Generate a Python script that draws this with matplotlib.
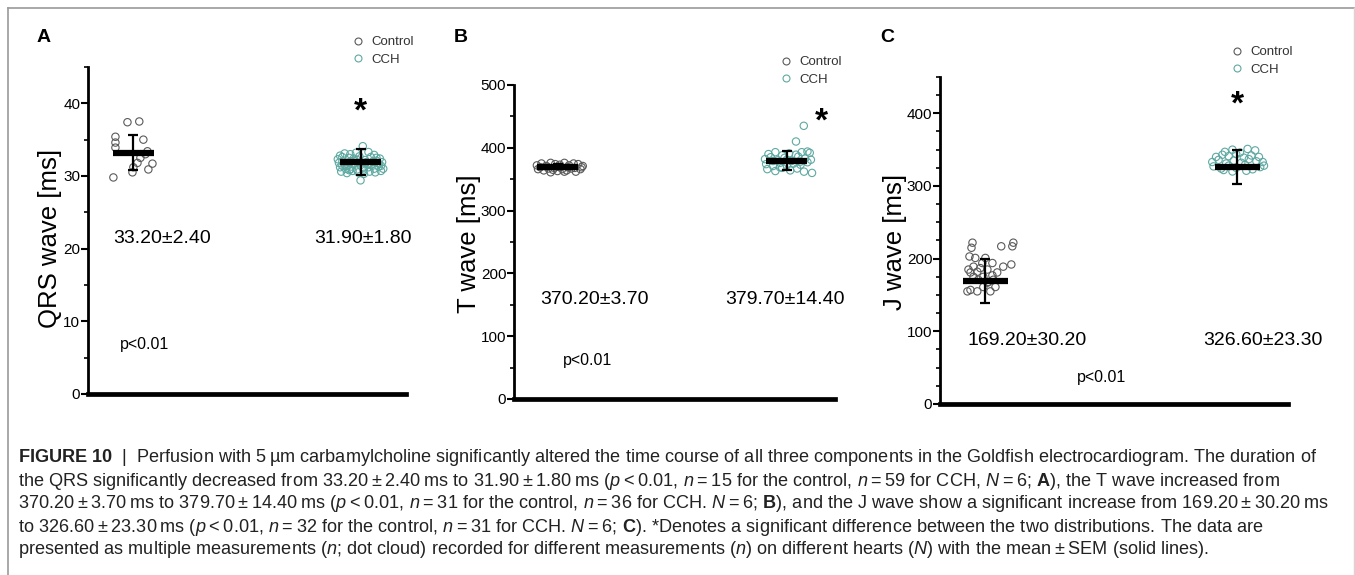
import matplotlib.pyplot as plt
from matplotlib.lines import Line2D
from matplotlib.ticker import MultipleLocator

plt.rcParams['font.family'] = ['Liberation Sans', 'DejaVu Sans']
plt.rcParams['mathtext.fontset'] = 'custom'
plt.rcParams['mathtext.rm'] = 'Liberation Sans'
plt.rcParams['mathtext.it'] = 'Liberation Sans:italic'
plt.rcParams['mathtext.bf'] = 'Liberation Sans:bold'

GRAY = '#5a5a5a'
TEAL = '#5ea9a2'

groups = ['Control', 'CCH']

# --- A: QRS wave [ms]
qrs_mean = [33.20, 31.90]
qrs_err = [2.40, 1.80]
qrs_ctrl = [29.8, 37.4, 37.5, 35.4, 34.6, 33.9, 35.0, 30.5, 31.8, 32.5,
            33.4, 31.7, 30.9, 33.0, 31.2]
qrs_ctrl_dx = [-0.088, -0.026, 0.026, -0.079, -0.079, -0.079, 0.044, -0.004,
               0.018, 0.031, 0.062, 0.084, 0.066, 0.053, 0.0]
qrs_cch = [32.8, 33.1, 33.0, 33.2, 34.1, 33.3, 32.9, 32.4,
           32.3, 32.6, 32.5, 32.4, 32.7, 32.2, 32.6, 32.5, 31.9,
           31.8, 31.6, 31.9, 31.7, 31.5, 31.9, 31.6, 31.8, 31.4, 32.0,
           31.2, 31.0, 31.3, 30.9, 31.1, 31.2, 31.0, 31.3, 31.0, 31.4,
           30.6, 30.4, 30.7, 30.5, 30.3, 30.6, 30.5, 30.7, 30.8,
           32.0, 31.5, 32.1, 31.9, 31.6, 32.0, 31.7, 32.2, 30.9, 31.5,
           30.9, 32.1, 29.4]
qrs_cch_dx = [-0.09, -0.07, -0.045, -0.02, 0.01, 0.035, 0.06, 0.085,
              -0.10, -0.08, -0.05, -0.03, -0.005, 0.02, 0.045, 0.07, 0.095,
              -0.095, -0.07, -0.05, -0.025, 0.0, 0.025, 0.05, 0.075, 0.09, -0.04,
              -0.09, -0.065, -0.04, -0.015, 0.01, 0.035, 0.06, 0.08, 0.1, -0.08,
              -0.085, -0.06, -0.035, -0.01, 0.015, 0.04, 0.065, 0.09, -0.05,
              -0.08, -0.055, -0.03, 0.0, 0.03, 0.055, 0.08, -0.015, 0.015, 0.045,
              -0.045, 0.07, 0.0]

# --- B: T wave [ms]
t_mean = [370.20, 379.70]
t_err = [3.70, 14.40]
t_ctrl = [372, 375, 371, 376, 374, 373, 376, 372, 375, 374, 371,
          366, 364, 367, 365, 363, 366, 364, 367, 362, 366,
          369, 370, 368, 370, 369, 368, 369, 361, 362, 370]
t_ctrl_dx = [-0.09, -0.07, -0.05, -0.03, -0.01, 0.01, 0.03, 0.05, 0.07, 0.09, 0.11,
             -0.085, -0.06, -0.04, -0.02, 0.0, 0.02, 0.04, 0.06, 0.08, 0.1,
             -0.075, -0.045, -0.015, 0.015, 0.045, 0.075, 0.105, -0.03, 0.03, 0.0]
t_cch = [435, 410, 393,
         390, 393, 388, 391, 389, 394, 392,
         382, 385, 380, 384, 379, 386, 383, 381,
         374, 371, 376, 372, 375, 373, 377,
         366, 363, 368, 364, 367, 362, 360,
         379, 381, 378, 369]
t_cch_dx = [0.074, 0.04, 0.065,
            -0.08, -0.05, -0.02, 0.01, 0.04, 0.09, 0.1,
            -0.095, -0.07, -0.04, -0.01, 0.02, 0.05, 0.08, 0.105,
            -0.09, -0.06, -0.03, 0.0, 0.03, 0.06, 0.09,
            -0.085, -0.05, -0.02, 0.015, 0.045, 0.075, 0.11,
            -0.06, 0.0, 0.06, -0.03]

# --- C: J wave [ms]
j_mean = [169.20, 326.60]
j_err = [30.20, 23.30]
j_ctrl = [222, 215, 222, 217, 217, 203, 201, 201, 194, 189, 192, 189, 187,
          185, 181, 182, 177, 175, 175, 168, 161, 157, 155, 155, 155, 161,
          171, 194, 185, 181, 167, 171]
j_ctrl_dx = [-0.051, -0.055, 0.111, 0.107, 0.063, -0.063, -0.040, 0.0, 0.028,
             0.071, 0.103, -0.047, -0.020, 0.008, -0.059, -0.032, 0.028,
             -0.008, -0.047, 0.012, 0.040, -0.059, -0.032, -0.071, 0.020,
             -0.008, 0.032, -0.012, -0.067, 0.047, 0.008, -0.028]
j_cch = [347, 350, 346, 351, 349,
         340, 343, 341, 344, 339, 342, 340,
         333, 336, 331, 335, 332, 337, 334, 333,
         327, 324, 328, 325, 329, 323, 326, 328,
         320, 321, 322]
j_cch_dx = [-0.05, -0.02, 0.01, 0.04, 0.07,
            -0.085, -0.06, -0.035, -0.005, 0.025, 0.055, 0.085,
            -0.1, -0.075, -0.045, -0.015, 0.015, 0.045, 0.075, 0.1,
            -0.095, -0.065, -0.035, -0.005, 0.03, 0.06, 0.09, 0.105,
            -0.02, 0.035, -0.055]

fig = plt.figure(figsize=(13.55, 5.75), dpi=100)

# grey frame around the figure
frame = dict(color='#9a9a9a', lw=1.2, transform=fig.transFigure)
fig.add_artist(Line2D([0.0059, 0.9993], [0.986, 0.986], **frame))
fig.add_artist(Line2D([0.0059, 0.0059], [0.0, 0.986], **frame))
fig.add_artist(Line2D([0.9993, 0.9993], [0.0, 0.986], color='#d5d5d5', lw=1.0,
                      transform=fig.transFigure))


def panel(rect, ctrl, ctrl_dx, cch, cch_dx, means, errs, ylim, xlim, major,
          minor, ylabel, label_x, label_y, texts, p_pos, star_pos, leg_pos):
    ax = fig.add_axes(rect)
    ax.scatter([1 + d for d in ctrl_dx], ctrl, s=28, facecolors='none',
               edgecolors=GRAY, linewidths=0.8, zorder=2)
    ax.scatter([2 + d for d in cch_dx], cch, s=28, facecolors='none',
               edgecolors=TEAL, linewidths=0.8, zorder=2)
    ax.hlines(means, [0.91, 1.91], [1.09, 2.09], colors='black', lw=4.5, zorder=3)
    ax.errorbar([1, 2], means, yerr=errs, fmt='none', ecolor='black',
                elinewidth=1.6, capsize=3.5, capthick=1.6, zorder=4)
    for (x, y), m, e in zip(texts, means, errs):
        ax.text(x, y, '%.2f±%.2f' % (m, e), fontsize=14, ha='center', va='center')
    ax.text(p_pos[0], p_pos[1], 'p<0.01', fontsize=11.5, ha='center', va='center')
    ax.text(star_pos[0], star_pos[1], '*', fontsize=24, fontweight='bold',
            ha='center', va='center')

    ax.set_xlim(*xlim)
    ax.set_ylim(*ylim)
    ax.set_xticks([])
    ax.yaxis.set_major_locator(MultipleLocator(major))
    ax.yaxis.set_minor_locator(MultipleLocator(minor))
    ax.tick_params(axis='y', which='major', length=5, width=1.5, pad=0.5,
                   labelsize=11)
    ax.tick_params(axis='y', which='minor', length=3, width=1.2)
    ax.spines[['top', 'right']].set_visible(False)
    ax.spines['left'].set_linewidth(2.0)
    ax.spines['bottom'].set_linewidth(3.4)
    ax.set_ylabel(ylabel, fontsize=18.5)
    ax.yaxis.set_label_coords(label_x, label_y)

    handles = [Line2D([], [], ls='none', marker='o', ms=5, mfc='none',
                      mec=c, mew=0.8) for c in (GRAY, TEAL)]
    ax.legend(handles, groups, loc='upper left', bbox_to_anchor=leg_pos,
              frameon=False, prop={'size': 9.5},
              handlelength=0.8, handletextpad=0.6, labelspacing=0.4,
              borderpad=0, borderaxespad=0, labelcolor='#333333')
    return ax


panel([0.0649, 0.3148, 0.2347, 0.5687], qrs_ctrl, qrs_ctrl_dx, qrs_cch,
      qrs_cch_dx, qrs_mean, qrs_err, (0, 45), (0.8, 2.2), 10, 5,
      'QRS wave [ms]', -0.080, 0.477, [(1.128, 21.4), (2.01, 21.4)],
      (1.05, 6.8), (2.0, 38.8), (0.833, 1.095))

panel([0.3793, 0.3061, 0.2369, 0.5461], t_ctrl, t_ctrl_dx, t_cch, t_cch_dx,
      t_mean, t_err, (0, 500), (0.81, 2.21), 100, 50,
      'T wave [ms]', -0.102, 0.494, [(1.16, 159), (1.99, 159)],
      (1.13, 60.5), (2.15, 441), (0.832, 1.092))

panel([0.6937, 0.2974, 0.2568, 0.5687], j_ctrl, j_ctrl_dx, j_cch, j_cch_dx,
      j_mean, j_err, (0, 450), (0.82, 2.2), 100, 25,
      'J wave [ms]', -0.096, 0.495, [(1.166, 88), (2.10, 88)],
      (1.46, 37), (2.0, 411), (0.839, 1.095))

for letter, x in (('A', 44), ('B', 461), ('C', 887)):
    fig.text(x / 1355, 1 - 37 / 575, letter, fontsize=14, fontweight='bold',
             ha='center', va='center')

# caption
T = '\u2009'


def it(s):
    return r'$\mathit{' + s + '}$'


def bf(s):
    return r'$\mathbf{' + s + '}$'


pm = T + '±' + T
eq = T + '=' + T
lt = T + '<' + T
caption = [
    bf(r'FIGURE\ 10') + '  |  Perfusion with 5' + T + 'µm carbamylcholine '
    'significantly altered the time course of all three components in the '
    'Goldfish electrocardiogram. The duration of',
    'the QRS significantly decreased from 33.20' + pm + '2.40' + T + 'ms to 31.90'
    + pm + '1.80' + T + 'ms (' + it('p') + lt + '0.01, ' + it('n') + eq
    + '15 for the control, ' + it('n') + eq + '59 for CCH, ' + it('N') + eq
    + '6; ' + bf('A') + '), the T wave increased from',
    '370.20' + pm + '3.70' + T + 'ms to 379.70' + pm + '14.40' + T + 'ms ('
    + it('p') + lt + '0.01, ' + it('n') + eq + '31 for the control, '
    + it('n') + eq + '36 for CCH. ' + it('N') + eq + '6; ' + bf('B')
    + '), and the J wave show a significant increase from 169.20' + pm
    + '30.20' + T + 'ms',
    'to 326.60' + pm + '23.30' + T + 'ms (' + it('p') + lt + '0.01, ' + it('n')
    + eq + '32 for the control, ' + it('n') + eq + '31 for CCH. ' + it('N')
    + eq + '6; ' + bf('C') + '). *Denotes a significant difference between '
    'the two distributions. The data are',
    'presented as multiple measurements (' + it('n') + '; dot cloud) recorded '
    'for different measurements (' + it('n') + ') on different hearts ('
    + it('N') + ') with the mean' + pm + 'SEM (solid lines).',
]
for line, ypx in zip(caption, (458, 481, 503, 527, 550)):
    fig.text(18 / 1355, 1 - ypx / 575, line, fontsize=13.1, color='#222222',
             ha='left', va='center')

fig.savefig('out.png', dpi=100)
